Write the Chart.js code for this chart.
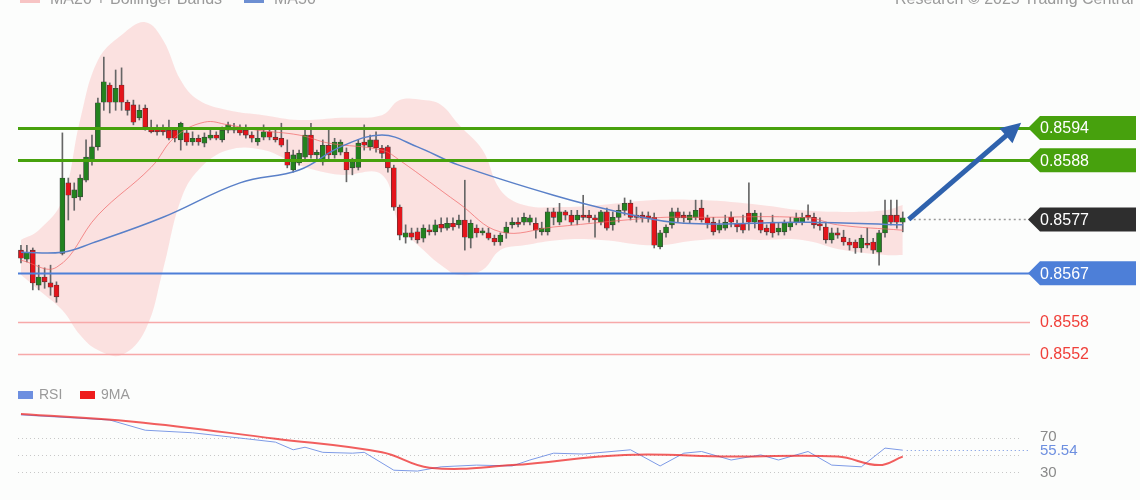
<!DOCTYPE html>
<html>
<head>
<meta charset="utf-8">
<script src="https://cdn.jsdelivr.net/npm/chart.js@4/dist/chart.umd.min.js"></script>
<style>
  body { margin: 0; width: 1140px; height: 500px; background: #fcfdfc; overflow: hidden; font-family: "Liberation Sans", Arial, sans-serif; position: relative; }
  #precio { position: absolute; left: 0; top: 0; }
  #rsi { position: absolute; left: 0; top: 380px; }
  .ley { position: absolute; color: #9a9a9a; font-size: 16px; white-space: nowrap; }
  .sw { display: inline-block; width: 20px; height: 7px; vertical-align: middle; margin-right: 10px; }
</style>
</head>
<body>
<canvas id="precio" width="1140" height="380"></canvas>
<canvas id="rsi" width="1140" height="120"></canvas>
<div class="ley" style="left:20px;top:-10px"><span class="sw" style="background:#f7c4c4"></span>MA20 + Bollinger Bands</div>
<div class="ley" style="left:244px;top:-10px"><span class="sw" style="background:#6d8fd2"></span>MA50</div>
<div class="ley" style="left:895px;top:-10px">Research © 2025 Trading Central</div>
<div class="ley" style="left:18px;top:386px;font-size:14px"><span class="sw" style="background:#6d8fe0;width:15px;height:8px;margin-right:6px"></span>RSI</div>
<div class="ley" style="left:80px;top:386px;font-size:14px"><span class="sw" style="background:#ee1c1c;width:15px;height:8px;margin-right:6px"></span>9MA</div>
<script>
// datos de velas (precio)
const opens = [0.85713,0.85696,0.85713,0.85648,0.85663,0.85652,0.85648,0.85707,0.85838,0.85810,0.85812,0.85843,0.85880,0.85905,0.85988,0.86020,0.85988,0.86020,0.85988,0.85983,
  0.85959,0.85977,0.85940,0.85940,0.85936,0.85936,0.85936,0.85918,0.85931,0.85914,0.85921,0.85912,0.85921,0.85927,0.85918,0.85936,0.85942,0.85940,0.85936,0.85927,
  0.85914,0.85923,0.85933,0.85923,0.85921,0.85895,0.85862,0.85875,0.85886,0.85927,0.85890,0.85877,0.85908,0.85890,0.85895,0.85895,0.85866,0.85867,0.85914,0.85905,
  0.85918,0.85903,0.85905,0.85866,0.85793,0.85737,0.85745,0.85747,0.85735,0.85750,0.85747,0.85761,0.85754,0.85763,0.85760,0.85769,0.85735,0.85754,0.85745,0.85745,
  0.85735,0.85728,0.85745,0.85760,0.85765,0.85765,0.85765,0.85763,0.85747,0.85747,0.85784,0.85765,0.85784,0.85778,0.85769,0.85778,0.85778,0.85773,0.85765,0.85784,
  0.85760,0.85774,0.85787,0.85800,0.85778,0.85778,0.85776,0.85774,0.85719,0.85745,0.85760,0.85784,0.85778,0.85769,0.85774,0.85791,0.85773,0.85765,0.85750,0.85754,
  0.85774,0.85763,0.85763,0.85782,0.85765,0.85769,0.85754,0.85765,0.85747,0.85747,0.85756,0.85765,0.85765,0.85778,0.85774,0.85761,0.85756,0.85732,0.85745,0.85737,
  0.85728,0.85728,0.85717,0.85726,0.85728,0.85709,0.85745,0.85778,0.85778,0.85765];
const highs = [0.85722,0.85722,0.85717,0.85685,0.85680,0.85685,0.85654,0.85931,0.85847,0.85838,0.85853,0.85918,0.85927,0.85996,0.86072,0.86024,0.86048,0.86052,0.85992,0.85992,
  0.85983,0.85983,0.85955,0.85946,0.85946,0.85955,0.85940,0.85951,0.85936,0.85933,0.85927,0.85931,0.85936,0.85933,0.85942,0.85951,0.85949,0.85946,0.85946,0.85933,
  0.85936,0.85946,0.85940,0.85936,0.85949,0.85918,0.85899,0.85899,0.85936,0.85949,0.85899,0.85918,0.85940,0.85921,0.85918,0.85903,0.85884,0.85918,0.85946,0.85927,
  0.85933,0.85908,0.85908,0.85871,0.85797,0.85760,0.85754,0.85754,0.85760,0.85760,0.85769,0.85773,0.85773,0.85773,0.85778,0.85843,0.85769,0.85760,0.85754,0.85754,
  0.85741,0.85745,0.85765,0.85773,0.85773,0.85782,0.85778,0.85773,0.85765,0.85791,0.85791,0.85800,0.85787,0.85787,0.85787,0.85815,0.85787,0.85778,0.85787,0.85791,
  0.85784,0.85797,0.85810,0.85806,0.85793,0.85784,0.85784,0.85782,0.85750,0.85760,0.85791,0.85791,0.85784,0.85784,0.85806,0.85806,0.85778,0.85774,0.85769,0.85778,
  0.85784,0.85769,0.85778,0.85838,0.85787,0.85782,0.85760,0.85778,0.85763,0.85769,0.85774,0.85782,0.85782,0.85797,0.85782,0.85773,0.85765,0.85754,0.85754,0.85750,
  0.85735,0.85732,0.85741,0.85754,0.85735,0.85750,0.85806,0.85806,0.85806,0.85784];
const lows = [0.85689,0.85691,0.85639,0.85639,0.85642,0.85629,0.85616,0.85704,0.85769,0.85787,0.85806,0.85840,0.85871,0.85899,0.85973,0.85968,0.85973,0.85973,0.85964,0.85946,
  0.85955,0.85936,0.85931,0.85927,0.85927,0.85918,0.85914,0.85899,0.85908,0.85908,0.85908,0.85905,0.85918,0.85918,0.85914,0.85931,0.85931,0.85927,0.85921,0.85914,
  0.85908,0.85918,0.85918,0.85914,0.85905,0.85866,0.85858,0.85871,0.85880,0.85884,0.85880,0.85871,0.85880,0.85884,0.85890,0.85840,0.85853,0.85862,0.85899,0.85899,
  0.85895,0.85884,0.85858,0.85787,0.85732,0.85726,0.85732,0.85726,0.85728,0.85741,0.85741,0.85747,0.85750,0.85750,0.85754,0.85713,0.85717,0.85737,0.85741,0.85732,
  0.85722,0.85722,0.85735,0.85754,0.85756,0.85760,0.85760,0.85735,0.85741,0.85741,0.85760,0.85760,0.85769,0.85760,0.85760,0.85769,0.85765,0.85737,0.85760,0.85750,
  0.85750,0.85765,0.85778,0.85769,0.85765,0.85765,0.85765,0.85717,0.85715,0.85737,0.85754,0.85765,0.85765,0.85763,0.85769,0.85765,0.85754,0.85741,0.85745,0.85750,
  0.85756,0.85747,0.85745,0.85750,0.85754,0.85745,0.85741,0.85737,0.85741,0.85741,0.85750,0.85760,0.85760,0.85769,0.85754,0.85750,0.85726,0.85726,0.85735,0.85722,
  0.85713,0.85707,0.85709,0.85717,0.85707,0.85685,0.85737,0.85760,0.85754,0.85747];
const closes = [0.85698,0.85709,0.85652,0.85663,0.85654,0.85644,0.85626,0.85847,0.85815,0.85825,0.85847,0.85886,0.85905,0.85987,0.86026,0.85988,0.86014,0.85988,0.85973,0.85951,
  0.85973,0.85942,0.85933,0.85933,0.85933,0.85921,0.85921,0.85949,0.85914,0.85921,0.85914,0.85923,0.85927,0.85921,0.85936,0.85946,0.85936,0.85931,0.85927,0.85921,
  0.85921,0.85933,0.85923,0.85918,0.85908,0.85871,0.85890,0.85893,0.85927,0.85890,0.85895,0.85908,0.85890,0.85914,0.85914,0.85862,0.85877,0.85912,0.85908,0.85918,
  0.85903,0.85893,0.85866,0.85793,0.85741,0.85745,0.85737,0.85732,0.85754,0.85747,0.85760,0.85754,0.85763,0.85756,0.85769,0.85737,0.85763,0.85745,0.85747,0.85735,
  0.85728,0.85741,0.85756,0.85765,0.85761,0.85774,0.85773,0.85750,0.85754,0.85784,0.85774,0.85784,0.85778,0.85765,0.85778,0.85774,0.85773,0.85769,0.85784,0.85754,
  0.85774,0.85787,0.85800,0.85774,0.85774,0.85773,0.85773,0.85722,0.85745,0.85756,0.85784,0.85773,0.85773,0.85778,0.85787,0.85769,0.85763,0.85747,0.85760,0.85765,
  0.85765,0.85756,0.85750,0.85765,0.85782,0.85750,0.85747,0.85745,0.85754,0.85763,0.85765,0.85773,0.85774,0.85774,0.85760,0.85758,0.85732,0.85745,0.85741,0.85728,
  0.85722,0.85717,0.85735,0.85722,0.85713,0.85745,0.85778,0.85765,0.85765,0.85773];

// bandas de Bollinger y medias: [indice de vela, valor]
const bandaSup = [[0,0.85732],[3,0.85750],[7,0.85806],[10,0.85955],[13,0.86066],[17,0.86113],[21,0.86137],[24,0.86104],[27,0.86029],[30,0.85992],[35,0.85973],[41,0.85964],
  [47,0.85955],[54,0.85959],[61,0.85964],[64,0.85992],[68,0.85992],[71,0.85983],[74,0.85946],[78,0.85899],[81,0.85825],[85,0.85797],[91,0.85793],[98,0.85797],
  [107,0.85806],[115,0.85806],[125,0.85797],[132,0.85787],[139,0.85784],[146,0.85787],[149,0.85797]];
const bandaInf = [[0,0.85667],[3,0.85639],[7,0.85601],[10,0.85555],[13,0.85527],[17,0.85518],[21,0.85564],[24,0.85676],[27,0.85806],[30,0.85862],[35,0.85899],[41,0.85899],
  [47,0.85871],[54,0.85853],[61,0.85853],[64,0.85760],[68,0.85713],[71,0.85685],[74,0.85667],[78,0.85676],[81,0.85713],[85,0.85722],[91,0.85732],[98,0.85732],
  [107,0.85722],[115,0.85732],[125,0.85732],[132,0.85732],[139,0.85713],[146,0.85704],[149,0.85704]];
const ma20 = [[0,0.85694],[6,0.85681],[13,0.85778],[22,0.85867],[26,0.85923],[31,0.85951],[35,0.85946],[40,0.85936],[47,0.85927],[52,0.85912],[61,0.85899],[64,0.85880],
  [74,0.85800],[81,0.85747],[90,0.85756],[107,0.85773],[115,0.85774],[133,0.85773],[138,0.85760],[149,0.85750]];
const ma50 = [[0,0.85709],[7,0.85709],[12,0.85726],[24,0.85774],[37,0.85838],[47,0.85862],[54,0.85905],[61,0.85927],[67,0.85905],[74,0.85871],[90,0.85815],[101,0.85784],
  [112,0.85763],[133,0.85765],[149,0.85760]];

// RSI y su media de 9
const rsiVals = [[0,97],[15,91],[21,79],[29,76],[38,69],[43,65],[46,56],[48,59],[51,53],[56,52],[58,53],[63,32],[67,31],[71,36],[77,38],[83,37],[86,44],[90,52],
  [95,51],[103,56],[108,37],[112,52],[115,54],[120,44],[125,50],[128,44],[133,54],[137,38],[142,36],[146,58],[149,55.54]];
const rsiMA = [[0,98],[19,89],[43,69],[61,53],[69,35],[83,38],[102,50],[120,48],[138,48],[145,38],[149,48]];

// niveles
const resistencias = [0.8594, 0.8588];
const actual = 0.8577;
const soporte = 0.8567;
const soportesRojos = [0.8558, 0.8552];
const rsiNiveles = [70, 50, 30];

const SLOTS = 171;
const etiquetas = Array.from({ length: SLOTS }, (_, i) => i);
const pts = (arr) => arr.map(([x, y]) => ({ x, y }));
const colorVela = closes.map((c, i) => (c >= opens[i] ? "#23821f" : "#e4141b"));

const pluginNiveles = {
  id: "niveles",
  afterDatasetsDraw(chart) {
    const { ctx, scales: { x, y } } = chart;
    const x0 = 18, x1 = 1030;
    ctx.save();
    // lineas horizontales
    const linea = (v, color, w, dash, desde) => {
      const py = Math.round(y.getPixelForValue(v)) + 0.5;
      ctx.strokeStyle = color; ctx.lineWidth = w; ctx.setLineDash(dash || []);
      ctx.beginPath(); ctx.moveTo(desde || x0, py); ctx.lineTo(x1, py); ctx.stroke();
      ctx.setLineDash([]);
      return py;
    };
    soportesRojos.forEach((v) => linea(v, "#f7a9a9", 1.5));
    linea(soporte, "#4d7fd8", 2);
    resistencias.forEach((v) => linea(v, "#47a10d", 3));
    linea(actual, "#999", 1.5, [2, 3], x.getPixelForValue(149) + 6);

    // flecha
    const ax = x.getPixelForValue(149) + 6, ay = y.getPixelForValue(actual);
    const bx = x.getPixelForValue(169), by = y.getPixelForValue(0.85950);
    const ang = Math.atan2(by - ay, bx - ax);
    ctx.strokeStyle = "#2f62ad"; ctx.fillStyle = "#2f62ad"; ctx.lineWidth = 5;
    ctx.beginPath(); ctx.moveTo(ax, ay);
    ctx.lineTo(bx - 14 * Math.cos(ang), by - 14 * Math.sin(ang)); ctx.stroke();
    ctx.beginPath(); ctx.moveTo(bx, by);
    ctx.lineTo(bx - 20 * Math.cos(ang) + 10 * Math.sin(ang), by - 20 * Math.sin(ang) - 10 * Math.cos(ang));
    ctx.lineTo(bx - 20 * Math.cos(ang) - 10 * Math.sin(ang), by - 20 * Math.sin(ang) + 10 * Math.cos(ang));
    ctx.closePath(); ctx.fill();

    // etiquetas de la derecha
    ctx.font = "16px 'Liberation Sans', Arial, sans-serif";
    ctx.textBaseline = "middle";
    const caja = (v, fondo) => {
      const py = y.getPixelForValue(v);
      ctx.fillStyle = fondo;
      ctx.beginPath();
      ctx.moveTo(1028, py); ctx.lineTo(1040, py - 12); ctx.lineTo(1136, py - 12);
      ctx.lineTo(1136, py + 12); ctx.lineTo(1040, py + 12); ctx.closePath(); ctx.fill();
      ctx.fillStyle = "#fff";
      ctx.fillText(v.toFixed(4), 1040, py + 1);
    };
    resistencias.forEach((v) => caja(v, "#47a10d"));
    caja(actual, "#2e2e2e");
    caja(soporte, "#4d7fd8");
    ctx.fillStyle = "#f0403a";
    soportesRojos.forEach((v) => ctx.fillText(v.toFixed(4), 1040, y.getPixelForValue(v) + 1));
    ctx.restore();
  },
};

const ejes = (min, max) => ({
  x: { type: "category", labels: etiquetas, display: false, offset: true, grid: { display: false } },
  y: { min, max, display: false, grid: { display: false } },
});

new Chart(document.getElementById("precio"), {
  type: "bar",
  data: {
    labels: etiquetas,
    datasets: [
      { type: "line", data: pts(bandaSup), borderWidth: 0, pointRadius: 0, tension: 0.4, fill: "+1", backgroundColor: "rgba(250,190,190,0.45)", order: 5 },
      { type: "line", data: pts(bandaInf), borderWidth: 0, pointRadius: 0, tension: 0.4, fill: false, order: 5 },
      { data: lows.map((l, i) => [l, highs[i]]), backgroundColor: "#666", barThickness: 1, grouped: false, order: 4 },
      { data: opens.map((o, i) => [o, closes[i]]), backgroundColor: colorVela, borderColor: "#3a3a3a", borderWidth: 0.6, borderSkipped: false, barThickness: 5, minBarLength: 2, grouped: false, order: 3 },
      { type: "line", data: pts(ma20), borderColor: "rgba(240,100,100,0.7)", borderWidth: 1, pointRadius: 0, tension: 0.4, order: 2 },
      { type: "line", data: pts(ma50), borderColor: "#5a80c8", borderWidth: 1.5, pointRadius: 0, tension: 0.4, order: 1 },
    ],
  },
  options: {
    responsive: false, animation: false,
    layout: { padding: { left: 18, right: 110, top: 20, bottom: 10 } },
    plugins: { legend: { display: false }, tooltip: { enabled: false } },
    scales: ejes(0.85490, 0.86141),
  },
  plugins: [pluginNiveles],
});

const pluginRsi = {
  id: "rsiNiveles",
  beforeDatasetsDraw(chart) {
    const { ctx, scales: { x, y } } = chart;
    ctx.save();
    ctx.strokeStyle = "#c8c8c8"; ctx.lineWidth = 1; ctx.setLineDash([1, 3]);
    rsiNiveles.forEach((v) => {
      const py = Math.round(y.getPixelForValue(v)) + 0.5;
      ctx.beginPath(); ctx.moveTo(18, py); ctx.lineTo(1022, py); ctx.stroke();
    });
    const ult = rsiVals[rsiVals.length - 1];
    ctx.strokeStyle = "#6d8fe0";
    const py = Math.round(y.getPixelForValue(ult[1])) + 0.5;
    ctx.beginPath(); ctx.moveTo(x.getPixelForValue(ult[0]) + 4, py); ctx.lineTo(1028, py); ctx.stroke();
    ctx.setLineDash([]);
    ctx.font = "15px 'Liberation Sans', Arial, sans-serif";
    ctx.textBaseline = "middle";
    ctx.fillStyle = "#8a8a8a";
    ctx.fillText("70", 1040, y.getPixelForValue(70) - 1);
    ctx.fillText("30", 1040, y.getPixelForValue(30) + 1);
    ctx.fillStyle = "#6d8fe0";
    ctx.fillText(ult[1].toFixed(2), 1040, py);
    ctx.restore();
  },
};

new Chart(document.getElementById("rsi"), {
  type: "line",
  data: {
    labels: etiquetas,
    datasets: [
      { data: pts(rsiMA), borderColor: "rgba(238,40,40,0.75)", borderWidth: 2, pointRadius: 0, tension: 0.4 },
      { data: pts(rsiVals), borderColor: "#7d9ae6", borderWidth: 1, pointRadius: 0, tension: 0 },
    ],
  },
  options: {
    responsive: false, animation: false,
    layout: { padding: { left: 18, right: 110, top: 0, bottom: 0 } },
    plugins: { legend: { display: false }, tooltip: { enabled: false } },
    scales: ejes(-3, 138),
  },
  plugins: [pluginRsi],
});
</script>
</body>
</html>
